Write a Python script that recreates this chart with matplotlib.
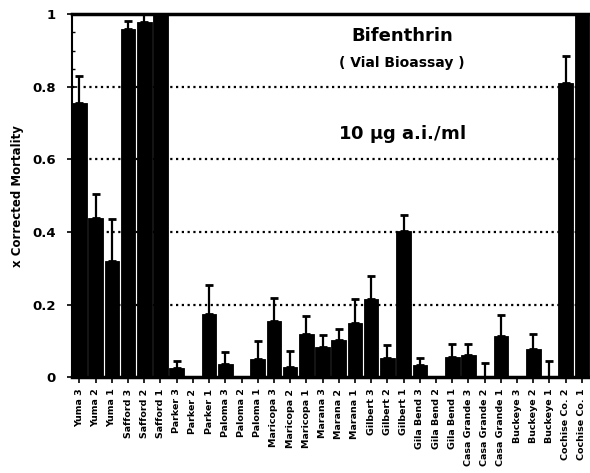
import numpy as np
import matplotlib
matplotlib.use("Agg")
import matplotlib.pyplot as plt
from matplotlib.ticker import MultipleLocator

# Sites (left to right) and their corrected mortality at 10 ug a.i./ml
sites = ["Yuma 3", "Yuma 2", "Yuma 1", "Safford 3", "Safford 2", "Safford 1",
         "Parker 3", "Parker 2", "Parker 1", "Paloma 3", "Paloma 2", "Paloma 1",
         "Maricopa 3", "Maricopa 2", "Maricopa 1", "Marana 3", "Marana 2", "Marana 1",
         "Gilbert 3", "Gilbert 2", "Gilbert 1", "Gila Bend 3", "Gila Bend 2", "Gila Bend 1",
         "Casa Grande 3", "Casa Grande 2", "Casa Grande 1",
         "Buckeye 3", "Buckeye 2", "Buckeye 1", "Cochise Co. 2", "Cochise Co. 1"]
mortality = [0.755, 0.438, 0.321, 0.958, 0.979, 1.0,
             0.027, 0.0, 0.175, 0.037, 0.0, 0.05,
             0.156, 0.03, 0.12, 0.084, 0.103, 0.15,
             0.217, 0.054, 0.404, 0.033, 0.0, 0.055,
             0.063, 0.0, 0.115, 0.0, 0.079, 0.0, 0.81, 1.0]
# upper error (standard error) above each bar
err_hi = [0.075, 0.068, 0.116, 0.024, 0.021, 0.0,
          0.019, 0.0, 0.08, 0.033, 0.0, 0.05,
          0.064, 0.044, 0.05, 0.033, 0.031, 0.067,
          0.063, 0.036, 0.044, 0.021, 0.0, 0.037,
          0.029, 0.04, 0.057, 0.0, 0.041, 0.046, 0.075, 0.0]
yticks = [0, 0.2, 0.4, 0.6, 0.8, 1]
ytick_labels = ["0", "0.2", "0.4", "0.6", "0.8", "1"]

plt.rcParams['font.family'] = ['DejaVu Sans']

fig = plt.figure(figsize=(5.9, 4.73), dpi=100)
ax = fig.add_axes([0.122, 0.202, 0.878, 0.768])

x = np.arange(len(sites))

# dotted grid lines behind bars
for g in [0.2, 0.4, 0.6, 0.8]:
    ax.axhline(g, color="black", linestyle=(0, (1, 1.6)), linewidth=1.6, zorder=0)

ax.bar(x, mortality, width=0.9, color="black", edgecolor="black", linewidth=0.6, zorder=2)
ax.errorbar(x, mortality, yerr=[np.zeros(len(x)), err_hi], fmt="none",
            ecolor="black", elinewidth=1.6, capsize=3, capthick=2, zorder=3)

ax.set_xlim(-0.46, 31.5)
ax.set_ylim(0, 1.0)
ax.set_yticks(yticks)
ax.set_yticklabels(ytick_labels, fontsize=9.5, fontweight="bold")
ax.yaxis.set_minor_locator(MultipleLocator(0.05))
ax.tick_params(axis="y", which="major", direction="inout", length=7, width=1.2, pad=8)
ax.tick_params(axis="y", which="minor", direction="in", length=2.5, width=1)

ax.set_xticks(x)
ax.set_xticklabels(sites, rotation=90, fontsize=6.8, fontweight="bold")
ax.tick_params(axis="x", direction="out", length=4, width=1.2, pad=4)

ax.spines["right"].set_visible(False)
ax.spines["left"].set_linewidth(1.5)
ax.spines["bottom"].set_linewidth(2.5)
ax.spines["top"].set_linewidth(2.5)

ax.set_ylabel("x Corrected Mortality", fontsize=8.5, fontweight="bold", labelpad=6)

ax.text(0.637, 0.94, "Bifenthrin", transform=ax.transAxes, ha="center", va="center",
        fontsize=13, fontweight="bold")
ax.text(0.637, 0.866, "( Vial Bioassay )", transform=ax.transAxes, ha="center", va="center",
        fontsize=10, fontweight="bold")
ax.text(0.637, 0.67, "10 $\\mathbf{\\mu}$g a.i./ml", transform=ax.transAxes, ha="center",
        va="center", fontsize=13, fontweight="bold")

fig.savefig("out.png", dpi=100)
